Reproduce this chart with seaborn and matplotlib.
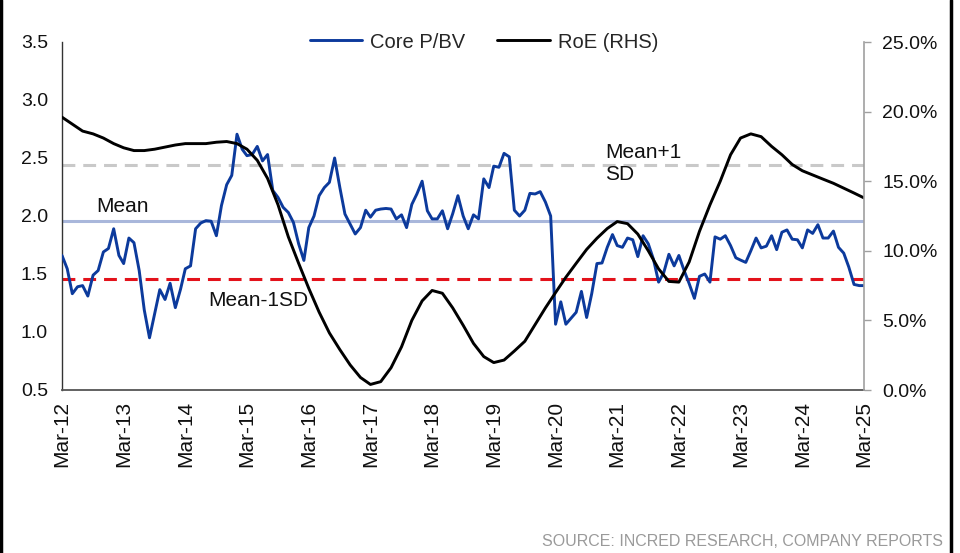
import matplotlib
matplotlib.use("Agg")
import matplotlib.pyplot as plt
import matplotlib.dates as mdates
from matplotlib.lines import Line2D
from matplotlib.ticker import FuncFormatter, MultipleLocator
import seaborn as sns
import pandas as pd

# ---------------- data ----------------
pbv_start = "2012-03-01"
core_pbv = [
    1.66, 1.545, 1.33, 1.39, 1.40, 1.31, 1.49, 1.53, 1.69, 1.72,
    1.89, 1.66, 1.59, 1.81, 1.77, 1.53, 1.19, 0.95, 1.16, 1.365,
    1.28, 1.42, 1.21, 1.37, 1.545, 1.57, 1.89, 1.94, 1.96, 1.955,
    1.83, 2.09, 2.27, 2.35, 2.705, 2.575, 2.52, 2.53, 2.60, 2.475,
    2.53, 2.22, 2.16, 2.075, 2.03, 1.945, 1.76, 1.617, 1.90, 2.00,
    2.175, 2.245, 2.29, 2.50, 2.245, 2.017, 1.93, 1.845, 1.90, 2.05,
    1.99, 2.05, 2.06, 2.065, 2.06, 1.975, 2.01, 1.90, 2.10, 2.19,
    2.30, 2.045, 1.975, 1.975, 2.045, 1.89, 2.02, 2.175, 2.00, 1.89,
    2.01, 1.975, 2.32, 2.245, 2.43, 2.42, 2.54, 2.51, 2.05, 2.00,
    2.05, 2.195, 2.19, 2.21, 2.12, 2.00, 1.067, 1.26, 1.067, 1.12,
    1.17, 1.35, 1.125, 1.33, 1.59, 1.595, 1.73, 1.84, 1.745, 1.73,
    1.81, 1.795, 1.65, 1.83, 1.76, 1.63, 1.43, 1.51, 1.67, 1.57,
    1.66, 1.53, 1.417, 1.29, 1.48, 1.50, 1.43, 1.82, 1.80, 1.83,
    1.745, 1.64, 1.62, 1.60, 1.70, 1.81, 1.725, 1.74, 1.83, 1.71,
    1.86, 1.88, 1.80, 1.795, 1.725, 1.88, 1.85, 1.925, 1.81, 1.81,
    1.87, 1.73, 1.68, 1.56, 1.41, 1.40, 1.40,
]

roe_start = "2012-03-01"
roe_pct = [
    19.6, 19.1, 18.6, 18.4, 18.1, 17.7, 17.4, 17.2, 17.2, 17.3,
    17.45, 17.6, 17.7, 17.7, 17.7, 17.8, 17.85, 17.7, 17.3, 16.5,
    15.2, 13.3, 11.0, 9.1, 7.3, 5.6, 4.1, 2.9, 1.8, 0.9,
    0.4, 0.6, 1.6, 3.1, 5.0, 6.4, 7.15, 6.95, 5.9, 4.65,
    3.35, 2.4, 1.97, 2.15, 2.8, 3.5, 4.7, 5.9, 7.0, 8.1,
    9.1, 10.1, 10.9, 11.6, 12.1, 11.95, 11.2, 10.0, 8.7, 7.8,
    7.75, 9.2, 11.4, 13.3, 15.0, 16.9, 18.1, 18.4, 18.2, 17.5,
    16.9, 16.2, 15.75, 15.45, 15.15, 14.85, 14.5, 14.15, 13.8,
]

mean_val = 1.96
mean_plus_sd = 2.44
mean_minus_sd = 1.46

series_labels = ["Core P/BV", "RoE (RHS)"]
band_labels = ["Mean", "Mean-1SD", "Mean+1\nSD"]
x_start, x_end = "2012-03-01", "2025-03-01"
source_text = "SOURCE: INCRED RESEARCH, COMPANY REPORTS"

# ---------------- frames ----------------
pbv_df = pd.DataFrame({
    "date": pd.date_range(pbv_start, periods=len(core_pbv), freq="MS"),
    "value": core_pbv,
})
roe_df = pd.DataFrame({
    "date": pd.date_range(roe_start, periods=len(roe_pct), freq="2MS"),
    "value": [v / 100 for v in roe_pct],
})

# ---------------- style ----------------
sns.set_style("white")
plt.rcParams["font.family"] = ["Liberation Sans", "DejaVu Sans"]

BLUE = "#0c3a9c"
MEAN_C = "#a9b7db"
RED = "#e3121b"
GREY = "#c9c9c9"

fig = plt.figure(figsize=(9.6, 5.53), dpi=100)
ax = fig.add_axes([62 / 960, 1 - 390 / 553, (864 - 62) / 960, (390 - 42) / 553])

xmin, xmax = pd.Timestamp(x_start), pd.Timestamp(x_end)

ax.plot([xmin, xmax], [mean_val] * 2, color=MEAN_C, lw=2.2, zorder=1)
ax.plot([xmin, xmax], [mean_plus_sd] * 2, color=GREY, lw=2.2,
        ls=(0, (4.2, 2.6)), zorder=1)
ax.plot([xmin, xmax], [mean_minus_sd] * 2, color=RED, lw=2.2,
        ls=(0, (4.2, 2.6)), zorder=1)

sns.lineplot(data=pbv_df, x="date", y="value", ax=ax, color=BLUE,
             lw=2.1, legend=False, zorder=3)

ax.set_xlim(xmin, xmax)
ax.set_ylim(0.5, 3.5)
ax.yaxis.set_major_locator(MultipleLocator(0.5))
ax.yaxis.set_major_formatter(FuncFormatter(lambda v, p: f"{v:.1f}"))
ax.xaxis.set_major_locator(mdates.MonthLocator(bymonth=3))
ax.xaxis.set_major_formatter(mdates.DateFormatter("%b-%y"))
ax.set_xlabel("")
ax.set_ylabel("")
ax.tick_params(axis="x", labelrotation=90, labelsize=15, length=0, pad=8,
               colors="#111111")
ax.tick_params(axis="y", labelsize=14, length=0, pad=10, colors="#111111")

ax2 = ax.twinx()
sns.lineplot(data=roe_df, x="date", y="value", ax=ax2, color="black",
             lw=2.1, legend=False)
ax2.set_ylim(0, 0.25)
ax2.yaxis.set_major_locator(MultipleLocator(0.05))
ax2.yaxis.set_major_formatter(FuncFormatter(lambda v, p: f"{v * 100:.1f}%"))
ax2.set_ylabel("")
ax2.set_xlim(xmin, xmax)
ax2.tick_params(axis="y", labelsize=14, length=5, width=1, pad=8,
                colors="#111111")
ax2.tick_params(axis="y", color="#a0a0a0")

for a in (ax, ax2):
    a.spines["top"].set_visible(False)
ax.spines["left"].set_color("#333333")
ax.spines["left"].set_linewidth(1.0)
ax.spines["bottom"].set_color("#555555")
ax.spines["bottom"].set_linewidth(1.3)
ax.spines["right"].set_visible(False)
ax2.spines["left"].set_visible(False)
ax2.spines["bottom"].set_visible(False)
ax2.spines["right"].set_color("#a0a0a0")
ax2.spines["right"].set_linewidth(1.2)

# annotations
ax.text(pd.Timestamp("2012-09-20"), 2.085, band_labels[0], fontsize=15,
        ha="left", va="center", color="#111111")
ax.text(pd.Timestamp("2014-07-15"), 1.275, band_labels[1], fontsize=15,
        ha="left", va="center", color="#111111")
ax.text(pd.Timestamp("2020-12-20"), 2.455, band_labels[2], fontsize=15,
        ha="left", va="center", color="#111111", linespacing=1.2)

handles = [Line2D([0], [0], color=BLUE, lw=2.1),
           Line2D([0], [0], color="black", lw=2.1)]
leg = ax.legend(handles, series_labels, loc="center",
                bbox_to_anchor=(0.526, 1.0), ncol=2, frameon=False,
                fontsize=14.5, handlelength=2.6, columnspacing=1.6,
                handletextpad=0.4)
leg.set_zorder(10)

fig.text(943 / 960, 1 - 541 / 553, source_text, ha="right", va="center",
         fontsize=11.5, color="#9a9a9a")

fig.add_artist(Line2D([1 / 960, 1 / 960], [0, 1], color="black", lw=2.5,
                      transform=fig.transFigure))
fig.add_artist(Line2D([951 / 960, 951 / 960], [0, 1], color="black", lw=2.5,
                      transform=fig.transFigure))

fig.savefig("out.png", dpi=100)
